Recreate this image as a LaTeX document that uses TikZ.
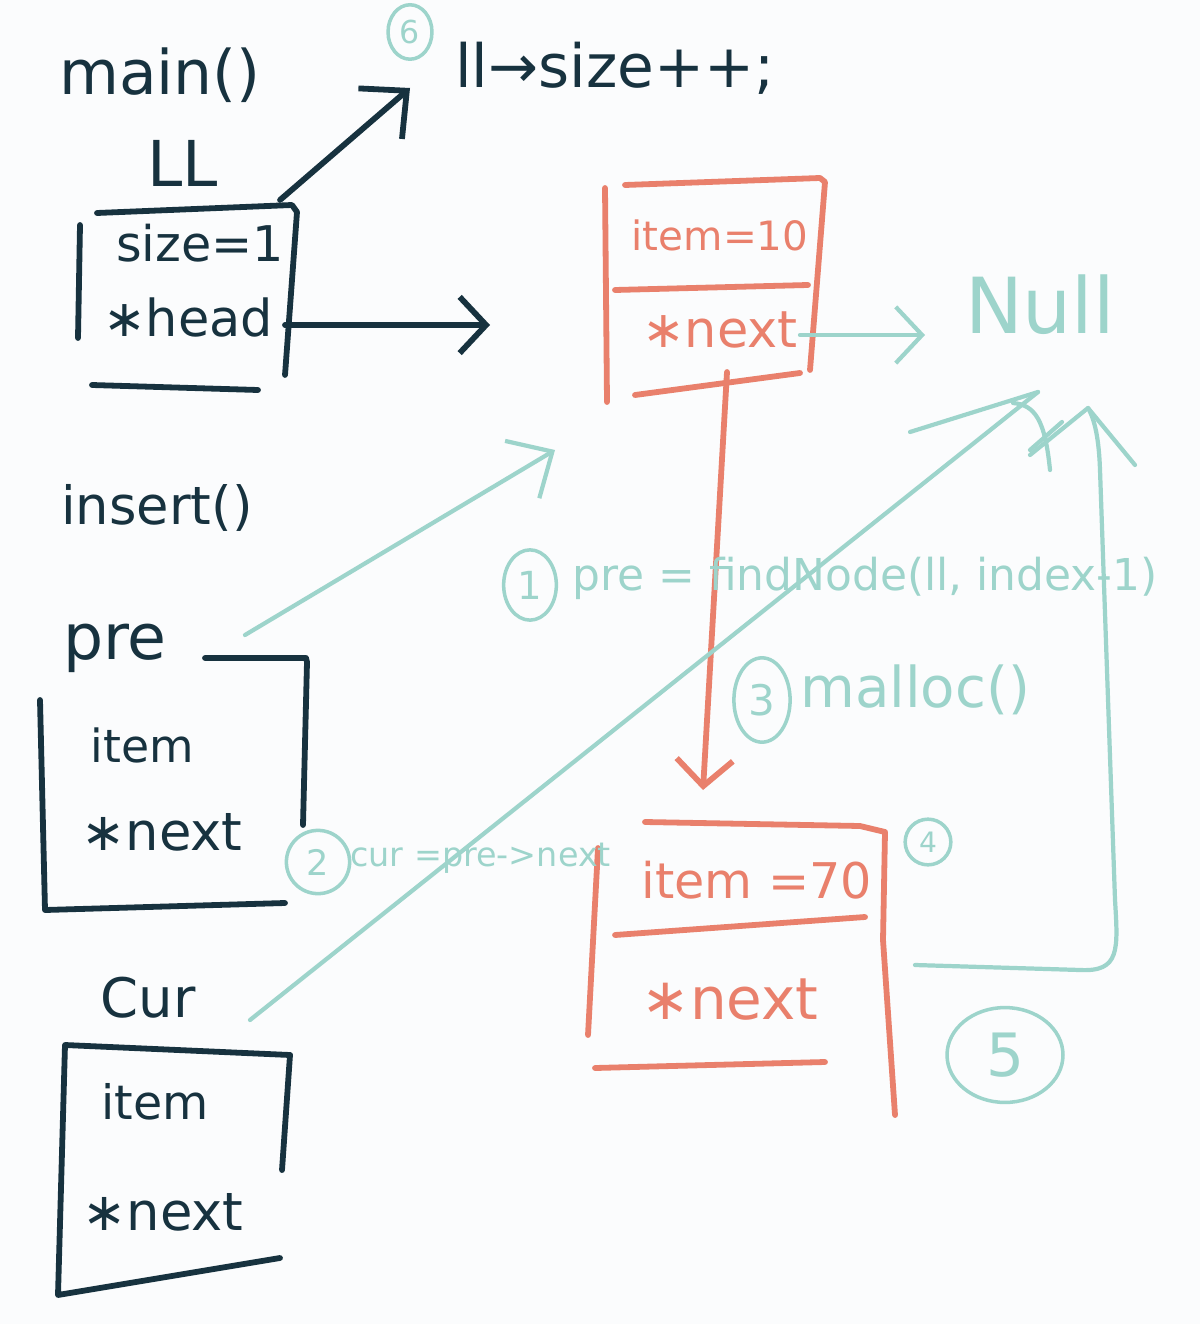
\documentclass[tikz,border=0pt]{standalone}
\usepackage{fontspec}
\setmainfont{DejaVu Sans}
\usetikzlibrary{arrows.meta,shapes.geometric}
\definecolor{ink}{HTML}{17323F}
\definecolor{salmon}{HTML}{E9806C}
\definecolor{mint}{HTML}{9DD4CB}
\definecolor{paper}{HTML}{FBFCFD}
\newcommand\hsz[1]{\fontsize{#1}{#1}\selectfont}
\tikzset{
  inkline/.style={draw=ink,line width=3.3pt,line cap=round,line join=round},
  redline/.style={draw=salmon,line width=3.3pt,line cap=round,line join=round},
  mintline/.style={draw=mint,line width=2.4pt,line cap=round,line join=round},
  bigbarb/.style={-{Straight Barb[length=20pt,width=38pt]}},
  midbarb/.style={-{Straight Barb[length=15pt,width=32pt]}},
  inktext/.style={text=ink,inner sep=0pt},
  redtext/.style={text=salmon,inner sep=0pt},
  minttext/.style={text=mint,inner sep=0pt},
  numcirc/.style={draw=mint,line width=2pt,text=mint,inner sep=1pt,shape=ellipse},
}
\begin{document}
\begin{tikzpicture}[x=0.02cm,y=-0.02cm]
\fill[paper] (0,0) rectangle (1200,1324);
\useasboundingbox (0,0) rectangle (1200,1324);

% ---------- main / LL ----------
\node[inktext,font=\hsz{35}] (main) at (160,75) {main()};
\node[inktext,font=\hsz{36}] (LL) at (183,163) {LL};
\node[inktext,font=\hsz{28}] (size) at (200,243) {size=1};
\node[inktext,font=\hsz{29}] (head) at (188,318) {∗head};
\draw[inkline] (80,225) -- (78,338);
\draw[inkline] (97,213) -- (292,205) -- (297,212) -- (285,375);
\draw[inkline] (92,385) -- (258,390);
\coordinate (llcorner) at (280,200);
\coordinate (sizetip) at (410,88);
\draw[inkline,bigbarb] (llcorner) -- (sizetip);

% ---------- step 6 ----------
\node[numcirc,font=\hsz{18},minimum width=25pt,minimum height=31pt] (c6) at (410,32) {6};
\node[inktext,font=\hsz{34},anchor=west] (inc) at (455,68) {ll→size++;};

% ---------- node 1 ----------
\draw[redline] (605,188) -- (607,402);
\draw[redline] (625,185) -- (820,178) -- (825,182) -- (810,370);
\draw[redline] (615,290) -- (808,285);
\draw[redline] (635,395) -- (800,373);
\node[redtext,font=\hsz{23}] (item1) at (720,235) {item=10};
\node[redtext,font=\hsz{29}] (next1) at (720,330) {∗next};
\coordinate (headfrom) at (285,325);
\coordinate (node1in) at (490,325);
\draw[inkline,midbarb] (headfrom) -- (node1in);

% ---------- Null ----------
\node[minttext,font=\hsz{44}] (null) at (1040,305) {Null};
\coordinate (next1from) at (800,335);
\coordinate (nulltip) at (925,335);
\draw[mintline,midbarb] (next1from) -- (nulltip);

% ---------- node 1 -> node 2 ----------
\coordinate (n1bottom) at (727,372);
\coordinate (n2top) at (703,790);
\draw[redline,midbarb] (n1bottom) -- (n2top);

% ---------- node 2 ----------
\draw[redline] (598,848) -- (588,1035);
\draw[redline] (645,822) -- (860,826) -- (885,832) -- (883,940) -- (895,1115);
\draw[redline] (615,935) -- (865,917);
\draw[redline] (595,1068) -- (825,1062);
\node[redtext,font=\hsz{28}] (item2) at (757,880) {item =70};
\node[redtext,font=\hsz{33}] (next2) at (730,1000) {∗next};
\node[numcirc,font=\hsz{16},minimum width=26pt,minimum height=26pt,shape=circle] (c4) at (928,842) {4};

% ---------- insert ----------
\node[inktext,font=\hsz{30}] (insert) at (157,508) {insert()};

% ---------- pre ----------
\node[inktext,font=\hsz{36}] (pre) at (115,648) {pre};
\draw[inkline] (205,658) -- (306,658) -- (307,662) -- (303,825);
\draw[inkline] (40,700) -- (45,910) -- (285,903);
\node[inktext,font=\hsz{26}] (itemp) at (142,745) {item};
\node[inktext,font=\hsz{30}] (nextp) at (162,832) {∗next};
\coordinate (prefrom) at (245,635);
\coordinate (pretip) at (555,450);
\draw[mintline,bigbarb] (prefrom) -- (pretip);

% ---------- cur ----------
\node[inktext,font=\hsz{31}] (cur) at (148,998) {Cur};
\draw[inkline] (290,1055) -- (65,1045) -- (58,1295) -- (280,1258);
\draw[inkline] (290,1055) -- (282,1170);
\node[inktext,font=\hsz{27}] (itemc) at (155,1102) {item};
\node[inktext,font=\hsz{30}] (nextc) at (163,1212) {∗next};
\coordinate (curfrom) at (250,1020);
\coordinate (curtip) at (1038,392);
\draw[mintline] (curfrom) -- (curtip);
\draw[mintline] (910,432) -- (curtip);
\draw[mintline] (1013,403) .. controls (1035,405) and (1045,420) .. (1050,470);
\draw[mintline] (1030,450) -- (1062,422);

% ---------- step labels ----------
\node[numcirc,font=\hsz{22},minimum width=30pt,minimum height=40pt] (c1) at (530,585) {1};
\node[minttext,font=\hsz{25},anchor=west] (find) at (572,578) {pre = findNode(ll, index-1)};
\node[numcirc,font=\hsz{24},minimum width=32pt,minimum height=48pt] (c3) at (762,700) {3};
\node[minttext,font=\hsz{32},anchor=west] (malloc) at (800,690) {malloc()};
\node[numcirc,font=\hsz{20},minimum width=36pt,minimum height=36pt,shape=circle] (c2) at (318,862) {2};
\node[minttext,font=\hsz{19},anchor=west] (curpre) at (350,858) {cur =pre->next};
\node[numcirc,font=\hsz{34},minimum width=66pt,minimum height=54pt] (c5) at (1005,1055) {5};

% ---------- step 5 arrow ----------
\coordinate (next2from) at (915,965);
\coordinate (step5tip) at (1088,408);
\draw[mintline] (next2from) -- (1080,970) .. controls (1120,972) and (1118,950) .. (1115,900)
  -- (1100,470) .. controls (1099,440) and (1095,420) .. (step5tip);
\draw[mintline] (1030,455) -- (step5tip) -- (1135,465);
\end{tikzpicture}
\end{document}
